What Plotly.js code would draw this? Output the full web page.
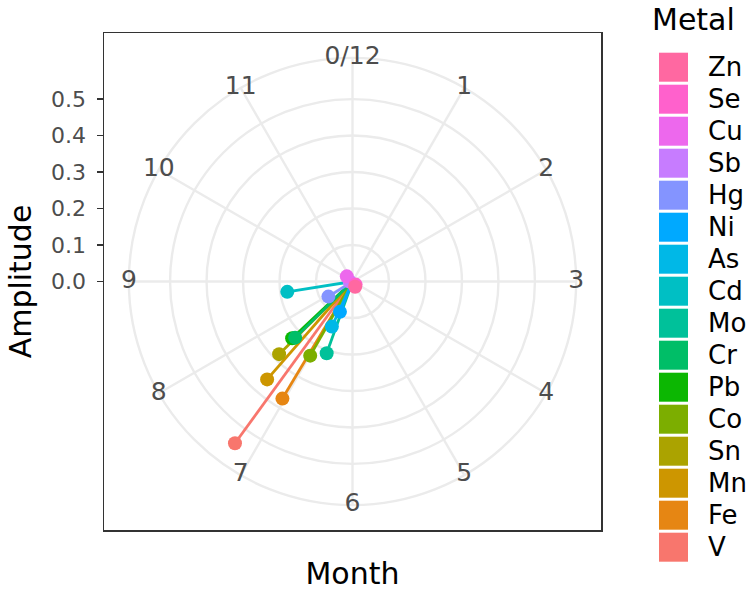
<!DOCTYPE html>
<html>
<head>
<meta charset="utf-8">
<script src="https://cdn.plot.ly/plotly-3.0.1.min.js"></script>
<style>
  html, body { margin: 0; padding: 0; background: #ffffff; }
  #chart { width: 750px; height: 592px; }
</style>
</head>
<body>
<div id="chart"></div>
<script>
// ---- data ----
const metals = ['V', 'Fe', 'Mn', 'Sn', 'Co', 'Pb', 'Cr', 'Mo', 'Cd', 'As', 'Ni', 'Hg', 'Sb', 'Cu', 'Se', 'Zn'];
const metalColors = ['#F8766D', '#E68613', '#CD9600', '#ABA300', '#7CAE00', '#0CB702', '#00BE67', '#00C19A',
                     '#00BFC4', '#00B8E7', '#00A9FF', '#8494FF', '#C77CFF', '#ED68ED', '#FF61CC', '#FF68A1'];
const phaseMonth = [7.20, 7.03, 7.37, 7.51, 6.99, 7.56, 7.52, 6.66, 8.70, 6.82, 6.75, 7.93, 9.00, 10.40, 4.50, 5.10];
const amplitude  = [0.548, 0.374, 0.356, 0.283, 0.234, 0.227, 0.220, 0.209, 0.181, 0.136, 0.090, 0.078, 0.008, 0.021, 0.012, 0.016];

const monthTicks = [0, 1, 2, 3, 4, 5, 6, 7, 8, 9, 10, 11];
const monthTickLabels = ['0/12', '1', '2', '3', '4', '5', '6', '7', '8', '9', '10', '11'];
const ampTicks = [0, 0.1, 0.2, 0.3, 0.4, 0.5];
const ampTickLabels = ['0.0', '0.1', '0.2', '0.3', '0.4', '0.5'];
const ampGrid = [0.1, 0.2, 0.3, 0.4, 0.5];

// ---- geometry / style ----
const W = 750, H = 592;
const ML = 104, MR = 149, MT = 33, MB = 62;
const PW = W - ML - MR, PH = H - MT - MB;       // 497 x 497 panel
const R_MAX = 0.613;                             // radial value at the outer circle
const OUTER_FRAC = 0.45;                         // outer circle radius / panel size
const PX_PER_UNIT = OUTER_FRAC * PW / R_MAX;
const HALF_RANGE = (PW / 2) / PX_PER_UNIT;
const DEG_PER_MONTH = 30;
const GRID = '#EBEBEB';
const FONT = 'DejaVu Sans, Liberation Sans, Arial, sans-serif';

const dom = [0.5 - OUTER_FRAC, 0.5 + OUTER_FRAC];

const traces = [];
// cartesian frame carrier (axes only)
traces.push({type: 'scatter', x: [], y: [], xaxis: 'x', yaxis: 'y', showlegend: false, hoverinfo: 'skip'});

metals.forEach((m, i) => {
  traces.push({
    type: 'scatterpolar', subplot: 'polar2',
    r: [0, amplitude[i]],
    theta: [phaseMonth[i] * DEG_PER_MONTH, phaseMonth[i] * DEG_PER_MONTH],
    mode: 'lines+markers',
    line: {color: metalColors[i], width: 2.8},
    marker: {color: metalColors[i], size: [0, 14], opacity: 1, line: {width: 0}},
    opacity: 1,
    name: m, showlegend: false, cliponaxis: false
  });
});

// angular tick labels centred on the outer circle
traces.push({
  type: 'scatterpolar', subplot: 'polar2',
  r: monthTicks.map(() => R_MAX),
  theta: monthTicks.map(t => t * DEG_PER_MONTH),
  mode: 'text', text: monthTickLabels,
  textfont: {family: FONT, size: 25, color: '#4D4D4D'},
  textposition: 'middle center',
  showlegend: false, cliponaxis: false, hoverinfo: 'skip'
});

// ---- manual legend (fill keys) ----
const shapes = [];
const annotations = [];
const px2x = px => (px - ML) / PW;
const px2y = py => 1 - (py - MT) / PH;
const legendOrder = metals.slice().reverse();
const colorOrder = metalColors.slice().reverse();
const KEY_X0 = 659, KEY_SIZE = 29, KEY_TOP = 52.7, ROW = 32;
legendOrder.forEach((m, j) => {
  const top = KEY_TOP + j * ROW;
  shapes.push({
    type: 'rect', xref: 'paper', yref: 'paper', layer: 'above',
    x0: px2x(KEY_X0), x1: px2x(KEY_X0 + KEY_SIZE),
    y0: px2y(top + KEY_SIZE), y1: px2y(top),
    fillcolor: colorOrder[j], line: {width: 0}
  });
  annotations.push({
    xref: 'paper', yref: 'paper', x: px2x(706), y: px2y(top + KEY_SIZE / 2),
    xanchor: 'left', yanchor: 'middle', showarrow: false,
    text: m, font: {family: FONT, size: 26, color: '#000000'}
  });
});
annotations.push({
  xref: 'paper', yref: 'paper', x: px2x(650), y: px2y(19),
  xanchor: 'left', yanchor: 'middle', showarrow: false,
  text: 'Metal', font: {family: FONT, size: 30, color: '#000000'}
});

const layout = {
  width: W, height: H,
  margin: {l: ML, r: MR, t: MT, b: MB, pad: 0},
  paper_bgcolor: '#ffffff', plot_bgcolor: '#ffffff',
  showlegend: false,
  font: {family: FONT},
  xaxis: {
    range: [-HALF_RANGE, HALF_RANGE], showgrid: false, zeroline: false,
    showticklabels: false, ticks: '', showline: true, mirror: true,
    linecolor: '#333333', linewidth: 1.5, fixedrange: true,
    title: {text: 'Month', font: {family: FONT, size: 30, color: '#000000'}, standoff: 32}
  },
  yaxis: {
    range: [-HALF_RANGE, HALF_RANGE], showgrid: false, zeroline: false,
    tickvals: ampTicks, ticktext: ampTickLabels,
    ticks: 'outside', ticklen: 6, tickwidth: 1.5, tickcolor: '#333333',
    ticklabelstandoff: 6,
    tickfont: {family: FONT, size: 22, color: '#4D4D4D'},
    showline: true, mirror: true, linecolor: '#333333', linewidth: 1.5, fixedrange: true,
    title: {text: 'Amplitude', font: {family: FONT, size: 30, color: '#000000'}, standoff: 10}
  },
  polar: {
    domain: {x: dom, y: dom},
    bgcolor: '#ffffff',
    radialaxis: {range: [0, R_MAX], showgrid: false, showticklabels: false, ticks: '', showline: false,
                 layer: 'below traces'},
    angularaxis: {rotation: 90, direction: 'clockwise', dtick: 15, showgrid: true,
                  gridcolor: GRID, gridwidth: 1.2, showticklabels: false, ticks: '', showline: false,
                  layer: 'below traces'}
  },
  polar2: {
    domain: {x: dom, y: dom},
    bgcolor: 'rgba(0,0,0,0)',
    radialaxis: {range: [0, R_MAX], tickvals: ampGrid, showgrid: true, gridcolor: GRID, gridwidth: 2.4,
                 showticklabels: false, ticks: '', showline: false, layer: 'below traces'},
    angularaxis: {rotation: 90, direction: 'clockwise', dtick: 30, showgrid: true,
                  gridcolor: GRID, gridwidth: 2.4, showticklabels: false, ticks: '',
                  showline: true, linecolor: GRID, linewidth: 2.4, layer: 'below traces'}
  },
  shapes: shapes,
  annotations: annotations
};

Plotly.newPlot('chart', traces, layout, {displayModeBar: false, staticPlot: true});
</script>
</body>
</html>
